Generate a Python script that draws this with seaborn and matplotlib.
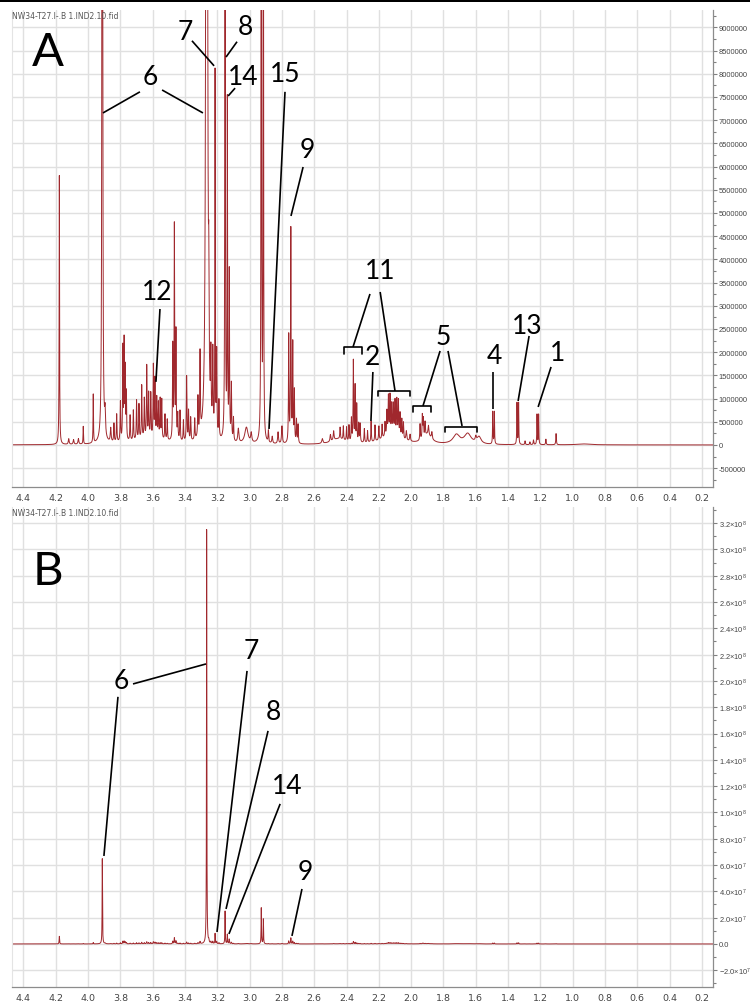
import numpy as np
import pandas as pd
import matplotlib
matplotlib.use("Agg")
import matplotlib.pyplot as plt
from matplotlib.patches import Rectangle
from matplotlib.ticker import MultipleLocator, FuncFormatter
import seaborn as sns


FILE_TITLE = "NW34-T27.I-.B 1.IND2.10.fid"

# peak list: shift (ppm), height (x1e6), half width (ppm)
PEAK_PPM = [
    3.62, 3.02, 2.45, 2.12, 1.90, 1.72, 1.65, 1.58, 0.93,
    4.178, 4.12, 4.09, 4.06, 4.03, 3.968, 3.912, 3.895, 3.86, 3.84,
    3.823, 3.80, 3.785, 3.777, 3.770, 3.763, 3.74, 3.72, 3.70, 3.685,
    3.668, 3.652, 3.637, 3.625, 3.612, 3.596, 3.586, 3.575, 3.565, 3.554,
    3.544, 3.524, 3.51, 3.476, 3.466, 3.456, 3.445, 3.431, 3.41, 3.39,
    3.378, 3.365, 3.34, 3.32, 3.307, 3.266, 3.253, 3.24, 3.228, 3.214,
    3.204, 3.19, 3.152, 3.138, 3.126, 3.113, 3.10, 3.07, 2.99, 2.928,
    2.915, 2.884, 2.86, 2.824, 2.80, 2.758, 2.745, 2.733, 2.723, 2.71,
    2.70, 2.55, 2.50, 2.48, 2.44, 2.42, 2.40, 2.385, 2.37, 2.358,
    2.347, 2.337, 2.325, 2.316, 2.29, 2.27, 2.248, 2.224, 2.20, 2.18,
    2.162, 2.15, 2.141, 2.131, 2.12, 2.11, 2.10, 2.089, 2.079, 2.069,
    2.058, 2.048, 2.03, 2.007, 1.945, 1.931, 1.925, 1.914, 1.893, 1.872,
    1.60, 1.495, 1.485, 1.345, 1.335, 1.295, 1.265, 1.243, 1.221, 1.211,
    1.166, 1.103,
]
PEAK_HEIGHT = [
    0.12, 0.35, 0.12, 0.25, 0.2, 0.2, 0.22, 0.15, 0.02,
    5.8, 0.12, 0.1, 0.12, 0.38, 1.05, 65.0, 0.5, 0.3, 0.4,
    0.6, 0.85, 2.0, 2.1, 1.5, 1.0, 0.55, 0.65, 0.85, 0.75,
    1.15, 0.85, 1.55, 0.95, 0.95, 1.55, 1.25, 0.85, 0.75, 0.85,
    0.85, 0.55, 0.45, 2.0, 4.6, 2.3, 0.55, 0.65, 0.45, 1.4,
    0.65, 0.5, 0.45, 0.85, 1.75, 317.0, 2.0, 1.4, 1.7, 7.8,
    1.8, 0.8, 25.0, 7.2, 3.6, 1.2, 0.5, 0.3, 0.2, 27.5,
    19.0, 0.25, 0.15, 0.25, 0.38, 2.3, 4.6, 2.1, 1.1, 0.5,
    0.4, 0.1, 0.15, 0.2, 0.25, 0.3, 0.3, 0.35, 0.5, 1.75,
    1.2, 0.8, 0.4, 0.4, 0.3, 0.25, 0.45, 0.35, 0.3, 0.3,
    0.3, 0.5, 0.8, 0.8, 0.6, 0.6, 0.7, 0.75, 0.75, 0.5,
    0.4, 0.35, 0.2, 0.15, 0.35, 0.5, 0.4, 0.3, 0.2, 0.15,
    0.1, 0.7, 0.7, 0.9, 0.9, 0.08, 0.06, 0.1, 0.65, 0.65,
    0.12, 0.24,
]
PEAK_WIDTH = [
    0.12, 0.012, 0.05, 0.06, 0.03, 0.025, 0.025, 0.015, 0.05,
    0.0015, 0.003, 0.003, 0.003, 0.0015, 0.0015, 0.0013, 0.003, 0.003, 0.002,
    0.002, 0.002, 0.0018, 0.0018, 0.0018, 0.0018, 0.002, 0.002, 0.002, 0.002,
    0.002, 0.002, 0.002, 0.002, 0.002, 0.002, 0.002, 0.002, 0.002, 0.002,
    0.002, 0.002, 0.002, 0.0018, 0.0018, 0.0018, 0.002, 0.002, 0.002, 0.002,
    0.002, 0.002, 0.002, 0.002, 0.002, 0.0012, 0.002, 0.002, 0.002, 0.0013,
    0.002, 0.002, 0.0013, 0.0015, 0.0018, 0.002, 0.002, 0.004, 0.004, 0.0013,
    0.0013, 0.002, 0.003, 0.003, 0.003, 0.0018, 0.0018, 0.0018, 0.0018, 0.002,
    0.002, 0.004, 0.003, 0.003, 0.002, 0.002, 0.002, 0.002, 0.002, 0.0018,
    0.0018, 0.0018, 0.002, 0.002, 0.002, 0.002, 0.0018, 0.002, 0.002, 0.002,
    0.002, 0.002, 0.002, 0.002, 0.002, 0.002, 0.002, 0.002, 0.002, 0.002,
    0.002, 0.002, 0.003, 0.003, 0.002, 0.002, 0.002, 0.002, 0.003, 0.003,
    0.004, 0.0015, 0.0015, 0.0015, 0.0015, 0.002, 0.002, 0.002, 0.0015, 0.0015,
    0.002, 0.002,
]

LINE_COLOR = "#a0282d"
GRID_COLOR = "#e0e0e0"
X_RANGE = (4.471, 0.130)


def build_spectrum():
    ppm = np.linspace(X_RANGE[0], X_RANGE[1], 20000)
    intensity = np.zeros_like(ppm)
    for p, h, w in zip(PEAK_PPM, PEAK_HEIGHT, PEAK_WIDTH):
        intensity += h * 1e6 * w ** 2 / ((ppm - p) ** 2 + w ** 2)
    return pd.DataFrame({"ppm": ppm, "intensity": intensity})


def sci_label(v, _):
    if abs(v) < 1:
        return "0.0"
    exp = int(np.floor(np.log10(abs(v))))
    mant = v / 10 ** exp
    return r"$%.1f{\times}10^{%d}$" % (mant, exp)


def style_axes(ax, ylim, major, minor, formatter):
    ax.set_xlim(*X_RANGE)
    ax.set_ylim(*ylim)
    ax.xaxis.set_major_locator(MultipleLocator(0.2))
    ax.xaxis.set_minor_locator(MultipleLocator(0.1))
    ax.xaxis.set_major_formatter(FuncFormatter(lambda v, _: f"{v:.1f}"))
    ax.yaxis.set_major_locator(MultipleLocator(major))
    ax.yaxis.set_minor_locator(MultipleLocator(minor))
    ax.yaxis.set_major_formatter(FuncFormatter(formatter))
    ax.yaxis.tick_right()
    ax.tick_params(which="both", direction="out", colors="#808080",
                   labelcolor="#444444", labelsize=6.8, pad=1)
    ax.tick_params(axis="y", labelsize=5.4)
    ax.tick_params(which="major", length=3, width=0.8)
    ax.tick_params(which="minor", length=2, width=0.8)
    for lab in ax.get_yticklabels():
        lab.set_family("Liberation Sans")
    ax.grid(True, which="major", color=GRID_COLOR, lw=1.0)
    ax.set_axisbelow(True)
    for side in ["right", "bottom"]:
        ax.spines[side].set_color("#8c8c8c")
        ax.spines[side].set_linewidth(0.9)
    ax.spines["left"].set_color("#e4e4e4")
    ax.spines["top"].set_visible(False)
    ax.set_xlabel("")
    ax.set_ylabel("")
    ax.text(0.0, 0.989, FILE_TITLE, transform=ax.transAxes, fontsize=5.5,
            color="#555555", va="center", ha="left", family="DejaVu Sans")


def label(ax, text, x, y, size=19):
    ax.text(x, y * 1e6, text, fontsize=size, ha="center", va="center",
            family=["Lato", "DejaVu Sans"], color="black")


def leader(ax, x0, y0, x1, y1):
    ax.plot([x0, x1], [y0 * 1e6, y1 * 1e6], color="black", lw=1.2,
            solid_capstyle="butt")


def bracket(ax, xa, xb, y, ylow):
    ax.plot([xa, xa, xb, xb], [ylow * 1e6, y * 1e6, y * 1e6, ylow * 1e6],
            color="black", lw=1.2)


sns.set_style("white")
plt.rcParams["font.family"] = ["DejaVu Sans"]
plt.rcParams["mathtext.fontset"] = "custom"
plt.rcParams["mathtext.rm"] = "Liberation Sans"
plt.rcParams["mathtext.it"] = "Liberation Sans:italic"
plt.rcParams["mathtext.bf"] = "Liberation Sans:bold"

df = build_spectrum()

fig = plt.figure(figsize=(7.5, 10.03), dpi=100)
ax_a = fig.add_axes([0.016, 0.5135, 0.935, 0.4756])
ax_b = fig.add_axes([0.016, 0.0150, 0.935, 0.4786])

for ax in (ax_a, ax_b):
    sns.lineplot(data=df, x="ppm", y="intensity", ax=ax, color=LINE_COLOR,
                 lw=0.7, estimator=None, sort=False)

style_axes(ax_a, (-0.905e6, 9.375e6), 500000, 250000,
           lambda v, _: f"{v:.0f}")
style_axes(ax_b, (-3.27e7, 3.323e8), 2e7, 1e7, sci_label)

# panel A annotations
label(ax_a, "A", 4.248, 8.47, size=34)
label(ax_a, "6", 3.617, 7.93)
leader(ax_a, 3.679, 7.61, 3.908, 7.155)
leader(ax_a, 3.542, 7.65, 3.289, 7.155)
label(ax_a, "7", 3.40, 8.90)
leader(ax_a, 3.357, 8.71, 3.220, 8.17)
label(ax_a, "8", 3.028, 9.01)
leader(ax_a, 3.078, 8.69, 3.146, 8.36)
label(ax_a, "14", 3.041, 7.93)
leader(ax_a, 3.090, 7.69, 3.133, 7.52)
label(ax_a, "15", 2.781, 8.00)
leader(ax_a, 2.781, 7.61, 2.880, 0.345)
label(ax_a, "9", 2.645, 6.36)
leader(ax_a, 2.669, 5.99, 2.744, 4.935)
label(ax_a, "12", 3.573, 3.30)
leader(ax_a, 3.555, 2.93, 3.580, 1.36)
label(ax_a, "11", 2.192, 3.75)
leader(ax_a, 2.255, 3.254, 2.360, 2.112)
bracket(ax_a, 2.416, 2.304, 2.112, 1.961)
leader(ax_a, 2.192, 3.297, 2.100, 1.164)
bracket(ax_a, 2.205, 2.006, 1.164, 1.056)
label(ax_a, "2", 2.237, 1.897)
leader(ax_a, 2.237, 1.573, 2.249, 0.517)
label(ax_a, "5", 1.803, 2.328)
leader(ax_a, 1.821, 2.026, 1.927, 0.841)
bracket(ax_a, 1.988, 1.877, 0.841, 0.711)
leader(ax_a, 1.772, 2.026, 1.685, 0.409)
bracket(ax_a, 1.790, 1.592, 0.388, 0.28)
label(ax_a, "4", 1.487, 1.918)
leader(ax_a, 1.493, 1.573, 1.493, 0.776)
label(ax_a, "13", 1.282, 2.565)
leader(ax_a, 1.270, 2.349, 1.338, 0.948)
label(ax_a, "1", 1.097, 1.983)
leader(ax_a, 1.134, 1.681, 1.214, 0.819)

# panel B annotations
label(ax_b, "B", 4.248, 283.6, size=34)
label(ax_b, "6", 3.796, 200.0)
leader(ax_b, 3.722, 197.7, 3.270, 212.9)
leader(ax_b, 3.815, 187.9, 3.902, 66.9)
label(ax_b, "7", 2.991, 222.8)
leader(ax_b, 3.016, 207.6, 3.202, 9.1)
label(ax_b, "8", 2.855, 176.4)
leader(ax_b, 2.886, 162.0, 3.146, 26.6)
label(ax_b, "14", 2.768, 120.2)
leader(ax_b, 2.811, 106.5, 3.128, 7.6)
label(ax_b, "9", 2.657, 54.8)
leader(ax_b, 2.676, 41.8, 2.738, 6.1)

fig.add_artist(Rectangle((0, 1 - 3 / 1003), 1, 3 / 1003,
                         transform=fig.transFigure, color="black", lw=0))

fig.savefig("out.png", dpi=100)
